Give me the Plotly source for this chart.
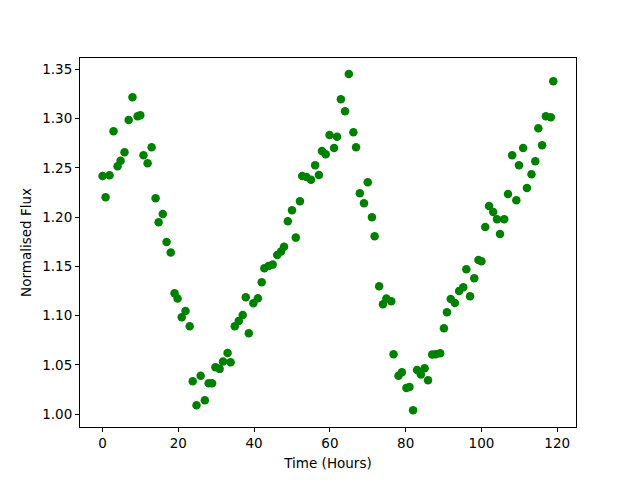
import plotly.graph_objects as go

time_hours = [0.0, 0.8, 1.85, 2.9, 3.97, 4.76, 5.8, 6.9, 7.9, 9.25, 9.97, 10.8, 11.9, 12.95,
              14.0, 14.8, 15.9, 16.9, 18.0, 19.0, 19.8, 20.9, 21.9, 23.0, 23.8, 24.8, 25.9,
              27.0, 28.0, 28.9, 29.8, 30.9, 31.8, 33.0, 33.8, 34.9, 35.95, 37.0, 37.8, 38.6,
              39.8, 41.0, 42.0, 42.7, 43.8, 44.9, 46.1, 47.1, 47.9, 48.9, 50.0, 51.0, 52.1,
              52.7, 53.8, 55.0, 56.1, 57.1, 57.9, 58.9, 59.9, 61.1, 61.9, 62.9, 64.0, 65.0,
              66.2, 66.9, 67.9, 69.0, 70.0, 71.1, 71.8, 73.0, 74.0, 74.9, 76.2, 76.8, 78.1,
              79.0, 80.2, 81.0, 81.95, 83.0, 84.0, 85.0, 85.9, 87.0, 87.9, 89.1, 90.1, 90.9,
              91.9, 93.0, 94.1, 95.2, 96.0, 97.0, 98.1, 99.2, 100.0, 101.0, 102.0, 103.1,
              104.1, 104.9, 106.0, 107.0, 108.1, 109.2, 109.9, 111.0, 112.0, 113.2, 114.2,
              115.0, 116.0, 117.0, 118.3, 118.95]
flux = [1.2418, 1.2201, 1.2425, 1.2871, 1.2516, 1.2573, 1.2658, 1.2986, 1.3216, 1.3023, 1.3033,
        1.2628, 1.2546, 1.2709, 1.2191, 1.1948, 1.2032, 1.1748, 1.1640, 1.1228, 1.1173, 1.0984,
        1.1048, 1.0893, 1.0335, 1.0091, 1.0389, 1.0142, 1.0314, 1.0314, 1.0477, 1.0460, 1.0534,
        1.0622, 1.0528, 1.0893, 1.0947, 1.1007, 1.1187, 1.0822, 1.1126, 1.1177, 1.1339, 1.1481,
        1.1504, 1.1518, 1.1616, 1.1650, 1.1700, 1.1958, 1.2070, 1.1792, 1.2161, 1.2418, 1.2408,
        1.2380, 1.2526, 1.2428, 1.2671, 1.2638, 1.2834, 1.2702, 1.2816, 1.3196, 1.3074, 1.3452,
        1.2861, 1.2709, 1.2242, 1.2141, 1.2354, 1.1999, 1.1806, 1.1299, 1.1116, 1.1173, 1.1146,
        1.0609, 1.0389, 1.0426, 1.0267, 1.0277, 1.0041, 1.0449, 1.0402, 1.0467, 1.0345, 1.0605,
        1.0609, 1.0619, 1.0872, 1.1035, 1.1170, 1.1129, 1.1251, 1.1288, 1.1471, 1.1197, 1.1380,
        1.1565, 1.1552, 1.1900, 1.2113, 1.2052, 1.1978, 1.1829, 1.1978, 1.2235, 1.2628, 1.2171,
        1.2526, 1.2702, 1.2296, 1.2435, 1.2567, 1.2902, 1.2729, 1.3023, 1.3013, 1.3378]

x_ticks = [0, 20, 40, 60, 80, 100, 120]
y_ticks = [1.00, 1.05, 1.10, 1.15, 1.20, 1.25, 1.30, 1.35]

fig = go.Figure(go.Scatter(
    x=time_hours, y=flux, mode="markers",
    marker=dict(color="#008000", size=8.5, line=dict(width=0)),
))

axis_common = dict(
    showline=True, mirror=True, linecolor="black", linewidth=1,
    ticks="outside", ticklen=4, tickwidth=1, tickcolor="black",
    showgrid=False, zeroline=False,
    tickfont=dict(family="DejaVu Sans", size=13.5, color="black"),
)

# The page body has an 8px margin, so offset the plot margins by 8px.
fig.update_layout(
    width=640, height=480,
    margin=dict(l=72, r=72, t=50, b=61, autoexpand=False),
    plot_bgcolor="white", paper_bgcolor="white",
    showlegend=False,
    font=dict(family="DejaVu Sans", size=13.5, color="black"),
    xaxis=dict(range=[-5.95, 124.95], tickvals=x_ticks,
               title=dict(text="Time (Hours)", standoff=8,
                          font=dict(family="DejaVu Sans", size=13.5)),
               **axis_common),
    yaxis=dict(range=[0.987, 1.3615], tickvals=y_ticks, tickformat=".2f",
               title=dict(text="Normalised Flux", standoff=7,
                          font=dict(family="DejaVu Sans", size=13.5)),
               **axis_common),
)

fig.write_html("out.html")
